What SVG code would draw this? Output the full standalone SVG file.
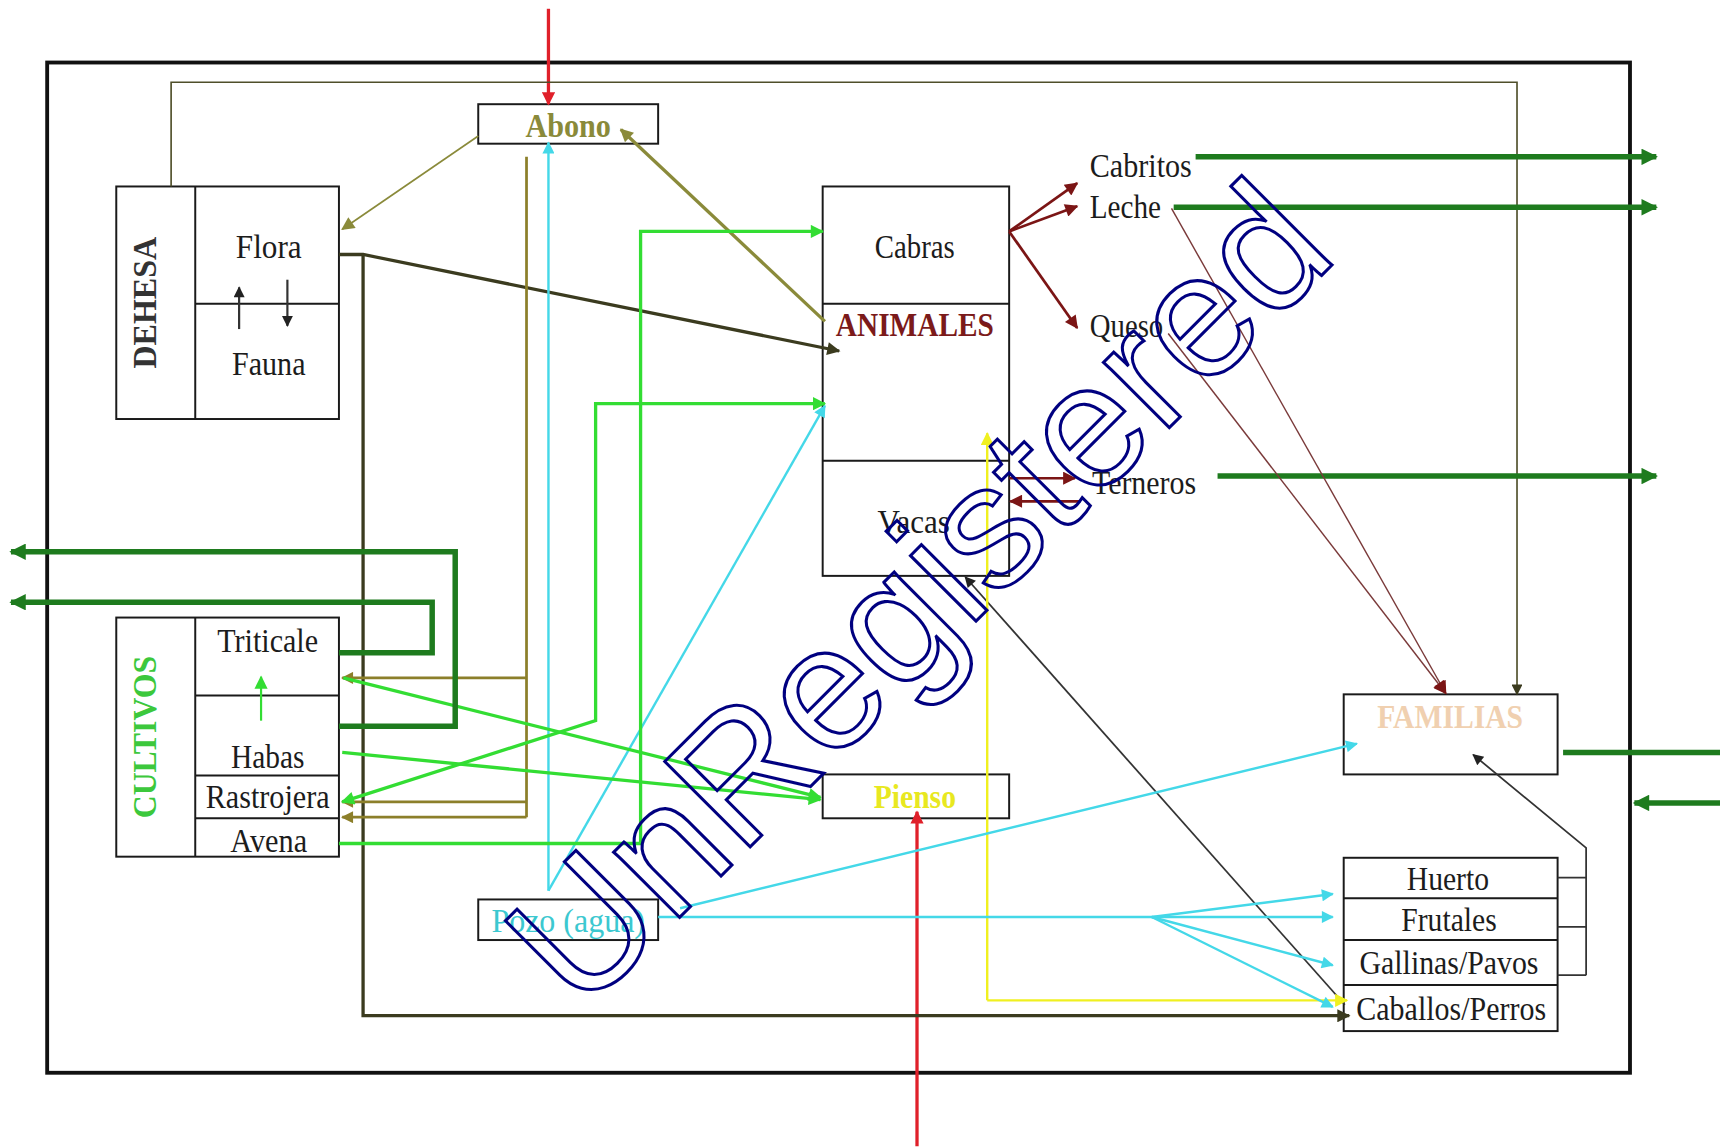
<svg xmlns="http://www.w3.org/2000/svg" width="1720" height="1148" viewBox="0 0 1720 1148">
<style>
.box{fill:#fff;stroke:#1a1a1a;stroke-width:1.8}
.div{stroke:#1a1a1a;stroke-width:1.8;fill:none}
.lbl{font-family:"Liberation Serif","Times New Roman",serif;font-size:31px;fill:#1c1c1c;text-anchor:middle}
.b{font-weight:bold}
.ln{fill:none;stroke-linejoin:miter}
.red{stroke:#e0202a;stroke-width:3}
.olv{stroke:#8a8a3a}
.olv2{stroke:#8c7f2a;stroke-width:2.5}
.drk{stroke:#3b3b1f;stroke-width:3}
.frm{stroke:#4f4f2a;stroke-width:1.5}
.grn{stroke:#33dd33;stroke-width:3}
.dgr{stroke:#1e7b1e;stroke-width:5}
.cyn{stroke:#44d8e8;stroke-width:2.2}
.dred{stroke:#7b1515;stroke-width:2.5}
.brn{stroke:#7a3a3a;stroke-width:1.3}
.blk{stroke:#333;stroke-width:1.6}
.yel{stroke:#f0f020;stroke-width:2.2}
.wm{font-family:"Liberation Sans",Arial,sans-serif;font-size:160px;fill:none;stroke:#000080;stroke-width:2.8}
</style>
<defs>
<marker id="a-red" viewBox="0 0 10 10" refX="9" refY="5" markerWidth="16" markerHeight="12" orient="auto" markerUnits="userSpaceOnUse"><path d="M0,0 L10,5 L0,10 z" fill="#e0202a"/></marker>
<marker id="a-olv" viewBox="0 0 10 10" refX="9" refY="5" markerWidth="16" markerHeight="12" orient="auto" markerUnits="userSpaceOnUse"><path d="M0,0 L10,5 L0,10 z" fill="#8a8a3a"/></marker>
<marker id="a-olv2" viewBox="0 0 10 10" refX="9" refY="5" markerWidth="14" markerHeight="11" orient="auto" markerUnits="userSpaceOnUse"><path d="M0,0 L10,5 L0,10 z" fill="#8c7f2a"/></marker>
<marker id="a-drk" viewBox="0 0 10 10" refX="9" refY="5" markerWidth="16" markerHeight="12" orient="auto" markerUnits="userSpaceOnUse"><path d="M0,0 L10,5 L0,10 z" fill="#3b3b1f"/></marker>
<marker id="a-frm" viewBox="0 0 10 10" refX="9" refY="5" markerWidth="14" markerHeight="10" orient="auto" markerUnits="userSpaceOnUse"><path d="M0,0 L10,5 L0,10 z" fill="#3b3b1f"/></marker>
<marker id="a-grn" viewBox="0 0 10 10" refX="9" refY="5" markerWidth="16" markerHeight="12" orient="auto-start-reverse" markerUnits="userSpaceOnUse"><path d="M0,0 L10,5 L0,10 z" fill="#33dd33"/></marker>
<marker id="a-dgr" viewBox="0 0 10 10" refX="9" refY="5" markerWidth="18" markerHeight="15" orient="auto" markerUnits="userSpaceOnUse"><path d="M0,0 L10,5 L0,10 z" fill="#1e7b1e"/></marker>
<marker id="a-cyn" viewBox="0 0 10 10" refX="9" refY="5" markerWidth="15" markerHeight="11" orient="auto" markerUnits="userSpaceOnUse"><path d="M0,0 L10,5 L0,10 z" fill="#44d8e8"/></marker>
<marker id="a-dred" viewBox="0 0 10 10" refX="9" refY="5" markerWidth="16" markerHeight="12" orient="auto" markerUnits="userSpaceOnUse"><path d="M0,0 L10,5 L0,10 z" fill="#7b1515"/></marker>
<marker id="a-blk" viewBox="0 0 10 10" refX="9" refY="5" markerWidth="14" markerHeight="10" orient="auto" markerUnits="userSpaceOnUse"><path d="M0,0 L10,5 L0,10 z" fill="#222"/></marker>
<marker id="a-yel" viewBox="0 0 10 10" refX="9" refY="5" markerWidth="15" markerHeight="12" orient="auto" markerUnits="userSpaceOnUse"><path d="M0,0 L10,5 L0,10 z" fill="#f0f020"/></marker>
</defs>
<rect width="1720" height="1148" fill="#fff"/>
<g transform="scale(1.0969)">
<g id="frame"><rect x="43" y="57" width="1443" height="921" fill="none" stroke="#111" stroke-width="3.5"/></g>

<g id="abono"><rect class="box" x="436" y="95" width="164" height="36"/>
<text class="lbl b" x="518" y="125" font-size="29" textLength="78" lengthAdjust="spacingAndGlyphs" style="fill:#8a8a3a">Abono</text></g>

<g id="dehesa"><rect class="box" x="106" y="170" width="203" height="212"/>
<path class="div" d="M178,170 V382 M178,277 H309"/>
<text class="lbl b" transform="translate(142,276) rotate(-90)" x="0" y="0" font-size="30" textLength="120" lengthAdjust="spacingAndGlyphs" style="fill:#333">DEHESA</text>
<text class="lbl" x="245" y="235" textLength="60" lengthAdjust="spacingAndGlyphs">Flora</text>
<text class="lbl" x="245" y="342" textLength="67" lengthAdjust="spacingAndGlyphs">Fauna</text>
<path class="ln" d="M218,300 V262" stroke="#333" stroke-width="2" marker-end="url(#a-blk)"/>
<path class="ln" d="M262,255 V297" stroke="#333" stroke-width="2" marker-end="url(#a-blk)"/></g>

<g id="cultivos"><rect class="box" x="106" y="563" width="203" height="218"/>
<path class="div" d="M178,563 V781 M178,634 H309 M178,707 H309 M178,746 H309"/>
<text class="lbl b" transform="translate(142,672) rotate(-90)" x="0" y="0" font-size="30" textLength="148" lengthAdjust="spacingAndGlyphs" style="fill:#3cc83c">CULTIVOS</text>
<text class="lbl" x="244" y="594" textLength="92" lengthAdjust="spacingAndGlyphs">Triticale</text>
<text class="lbl" x="244" y="700" textLength="67" lengthAdjust="spacingAndGlyphs">Habas</text>
<text class="lbl" x="244" y="737" textLength="113" lengthAdjust="spacingAndGlyphs">Rastrojera</text>
<text class="lbl" x="245" y="777" textLength="70" lengthAdjust="spacingAndGlyphs">Avena</text>
<path class="ln" d="M238,657 V617" stroke="#33dd33" stroke-width="2" marker-end="url(#a-grn)"/></g>

<g id="animales"><rect class="box" x="750" y="170" width="170" height="355"/>
<path class="div" d="M750,277 H920 M750,420 H920"/>
<text class="lbl" x="834" y="235" textLength="73" lengthAdjust="spacingAndGlyphs">Cabras</text>
<text class="lbl b" x="834" y="306" textLength="144" lengthAdjust="spacingAndGlyphs" style="fill:#7b1a1a">ANIMALES</text>
<text class="lbl" x="833" y="486" textLength="66" lengthAdjust="spacingAndGlyphs">Vacas</text></g>

<g id="pienso"><rect class="box" x="750" y="706" width="170" height="40"/>
<text class="lbl b" x="834" y="737" textLength="75" lengthAdjust="spacingAndGlyphs" style="fill:#e8e820">Pienso</text></g>

<g id="pozo"><rect class="box" x="436" y="820" width="164" height="37"/>
<text class="lbl" x="518" y="850" textLength="140" lengthAdjust="spacingAndGlyphs" style="fill:#3cc8d0">Pozo (agua)</text></g>

<g id="familias"><rect class="box" x="1225" y="633" width="195" height="73"/>
<text class="lbl b" x="1322" y="664" textLength="133" lengthAdjust="spacingAndGlyphs" style="fill:#f0d0b0">FAMILIAS</text></g>

<g id="huerto"><rect class="box" x="1225" y="782" width="195" height="158"/>
<path class="div" d="M1225,819 H1420 M1225,857 H1420 M1225,898 H1420"/>
<text class="lbl" x="1320" y="811" textLength="75" lengthAdjust="spacingAndGlyphs">Huerto</text>
<text class="lbl" x="1321" y="849" textLength="87" lengthAdjust="spacingAndGlyphs">Frutales</text>
<text class="lbl" x="1321" y="888" textLength="163" lengthAdjust="spacingAndGlyphs">Gallinas/Pavos</text>
<text class="lbl" x="1323" y="930" textLength="173" lengthAdjust="spacingAndGlyphs">Caballos/Perros</text></g>

<g id="cabritos"><text class="lbl" x="1040" y="161" textLength="93" lengthAdjust="spacingAndGlyphs">Cabritos</text></g>
<g id="leche"><text class="lbl" x="1026" y="199" textLength="65" lengthAdjust="spacingAndGlyphs">Leche</text></g>
<g id="queso"><text class="lbl" x="1027" y="307" textLength="67" lengthAdjust="spacingAndGlyphs">Queso</text></g>
<g id="terneros"><text class="lbl" x="1043" y="450" textLength="95" lengthAdjust="spacingAndGlyphs">Terneros</text></g>

<g id="connectors">
<path class="ln red" d="M500,8 V95" marker-end="url(#a-red)"/>
<path class="ln red" d="M836,1045 V740" marker-end="url(#a-red)"/>
<path class="ln frm" d="M156,170 V75 H1383 V633" marker-end="url(#a-frm)"/>
<path class="ln olv" stroke-width="1.5" d="M436,124 L312,209" marker-end="url(#a-olv)"/>
<path class="ln olv" stroke-width="3" d="M752,293 L566,118" marker-end="url(#a-olv)"/>
<path class="ln drk" d="M309,232 H331 L765,320" marker-end="url(#a-drk)"/>
<path class="ln drk" d="M331,233 V926 H1230" marker-end="url(#a-drk)"/>
<path class="ln olv2" d="M480,143 V745"/>
<path class="ln olv2" d="M480,618 H312" marker-end="url(#a-olv2)"/>
<path class="ln olv2" d="M480,731 H312" marker-end="url(#a-olv2)"/>
<path class="ln olv2" d="M480,745 H312" marker-end="url(#a-olv2)"/>
<path class="ln cyn" d="M500,812 V130" marker-end="url(#a-cyn)"/>
<path class="ln cyn" d="M500,812 L752,370" marker-end="url(#a-cyn)"/>
<path class="ln grn" d="M309,769 H584 V211 H750" marker-end="url(#a-grn)"/>
<path class="ln grn" d="M312,731 L543,657 V368 H752" marker-start="url(#a-grn)" marker-end="url(#a-grn)"/>
<path class="ln grn" d="M313,618 L748,727" marker-end="url(#a-grn)"/>
<path class="ln grn" d="M312,686 L748,729" marker-end="url(#a-grn)"/>
<path class="ln dgr" d="M309,595 H394 V549 H10" marker-end="url(#a-dgr)"/>
<path class="ln dgr" d="M309,662 H415 V503 H10" marker-end="url(#a-dgr)"/>
<path class="ln dgr" d="M1090,143 H1510" marker-end="url(#a-dgr)"/>
<path class="ln dgr" d="M1070,189 H1510" marker-end="url(#a-dgr)"/>
<path class="ln dgr" d="M1110,434 H1510" marker-end="url(#a-dgr)"/>
<path class="ln dgr" d="M1425,686 H1575"/>
<path class="ln dgr" d="M1575,732 H1490" marker-end="url(#a-dgr)"/>
<path class="ln dred" d="M920,211 L982,167" marker-end="url(#a-dred)"/>
<path class="ln dred" d="M920,211 L982,188" marker-end="url(#a-dred)"/>
<path class="ln dred" d="M920,211 L982,299" marker-end="url(#a-dred)"/>
<path class="ln dred" d="M920,436 H980" marker-end="url(#a-dred)"/>
<path class="ln dred" d="M985,457 H921" marker-end="url(#a-dred)"/>
<path class="ln brn" d="M1068,190 L1318,632" marker-end="url(#a-dred)"/>
<path class="ln brn" d="M1065,304 L1318,632" marker-end="url(#a-dred)"/>
<path class="ln blk" d="M1226,916 L880,526" marker-end="url(#a-blk)"/>
<path class="ln blk" d="M1420,800 H1446 M1420,845 H1446 M1420,889 H1446"/>
<path class="ln blk" d="M1446,889 V773 L1343,688" marker-end="url(#a-blk)"/>
<path class="ln yel" d="M900,912 V395" marker-end="url(#a-yel)"/>
<path class="ln yel" d="M900,912 H1228" marker-end="url(#a-yel)"/>
<path class="ln cyn" stroke-width="2.8" d="M620,828 L1237,678" marker-end="url(#a-cyn)"/>
<path class="ln cyn" d="M600,836 H1215" marker-end="url(#a-cyn)"/>
<path class="ln cyn" d="M1050,836 L1215,815" marker-end="url(#a-cyn)"/>
<path class="ln cyn" d="M1050,836 L1215,880" marker-end="url(#a-cyn)"/>
<path class="ln cyn" d="M1050,836 L1215,918" marker-end="url(#a-cyn)"/>
</g>

<g id="watermark"><text class="wm" transform="translate(530,926) rotate(-45)" x="0" y="0">UnRegistered</text></g>
</g>
</svg>
